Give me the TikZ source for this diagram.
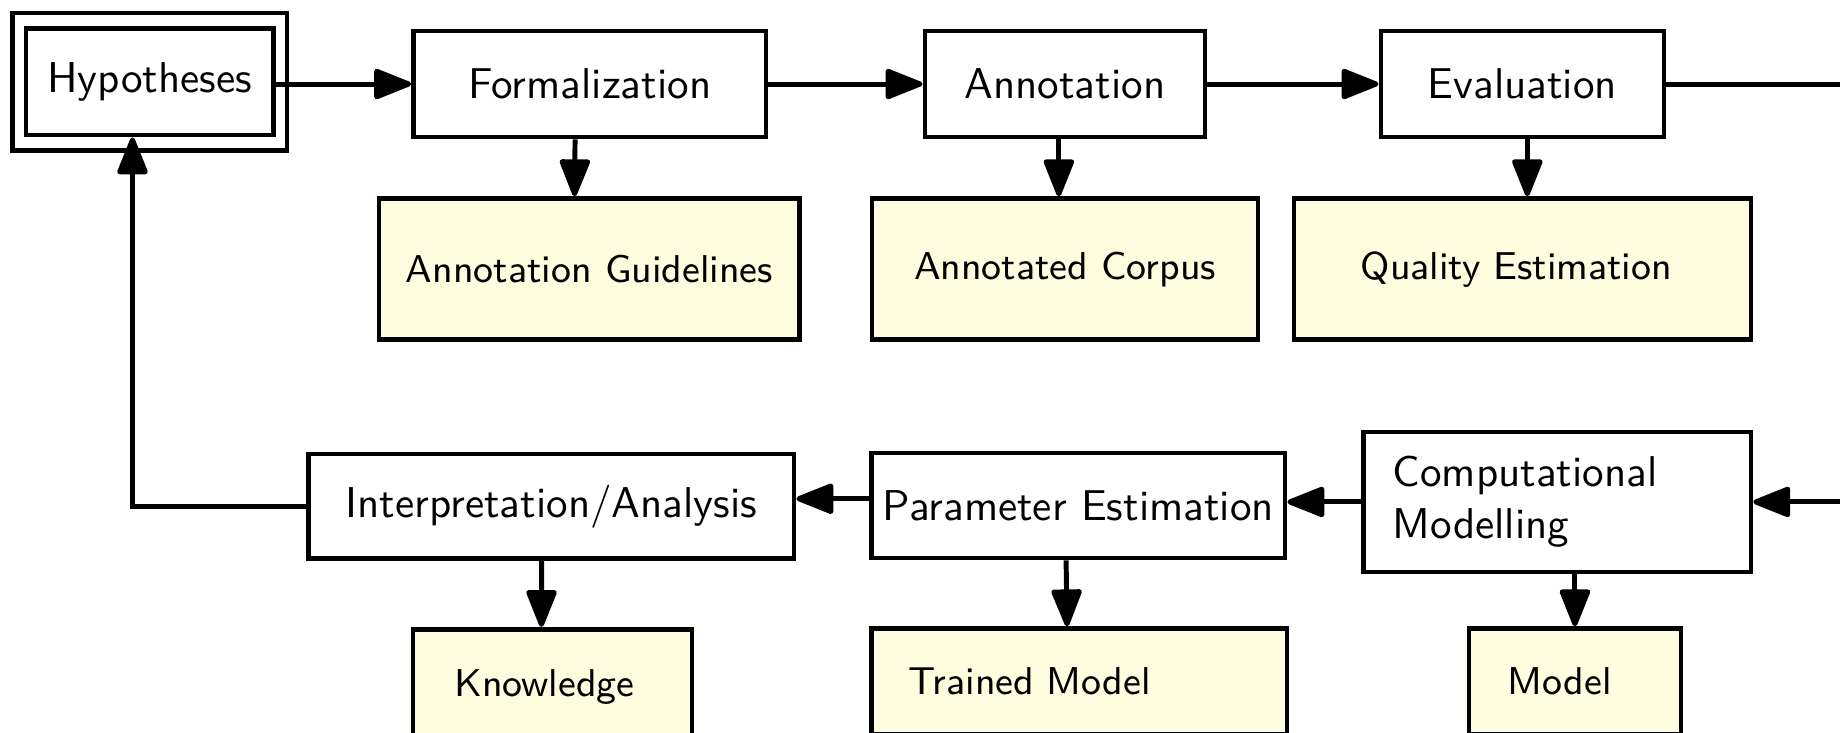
\documentclass[tikz,border=0pt]{standalone}
\usepackage{tikz}
\usetikzlibrary{arrows.meta,fit}
\definecolor{prodyellow}{RGB}{255,253,224}

\begin{document}
\begin{tikzpicture}[
	proc/.style={draw, line width=1.1pt, fill=white, minimum height=0.864cm, font=\sffamily},
	prod/.style={draw, line width=1.1pt, fill=prodyellow, font=\sffamily\small},
	arr/.style={line width=1.15pt, -{Triangle[length=9.6pt,width=7.3pt,round]}}
]
	\useasboundingbox (0,0) rectangle (15,-5.975);
	\clip (0,0) rectangle (15,-5.975);

	% top row
	\node[proc, minimum width=2.016cm, minimum height=0.870cm] (hyp) at (1.220,-0.666) {Hypotheses};
	\node[draw, line width=1.1pt, fit=(hyp), inner xsep=2.6pt, inner ysep=3pt] (hypframe) {};
	\node[proc, minimum width=2.874cm] (form) at (4.808,-0.685) {Formalization};
	\node[proc, minimum width=2.283cm] (ann) at (8.682,-0.685) {Annotation};
	\node[proc, minimum width=2.307cm] (eval) at (12.411,-0.685) {Evaluation};
	\node[prod, minimum width=3.428cm, minimum height=1.15cm] (guid) at (4.804,-2.194) {Annotation Guidelines};
	\node[prod, minimum width=3.147cm, minimum height=1.15cm] (corpus) at (8.682,-2.194) {Annotated Corpus};
	\node[prod, minimum width=3.725cm, minimum height=1.15cm, text width=3.3cm, align=center] (qual) at (12.411,-2.194) {\hspace*{-0.1cm}Quality Estimation};

	% bottom row
	\node[proc, minimum width=3.956cm, minimum height=0.852cm] (interp) at (4.495,-4.127) {Interpretation/Analysis};
	\node[proc, minimum width=3.369cm, minimum height=0.856cm, inner xsep=2pt] (param) at (8.791,-4.121) {Parameter Estimation};
	\node[proc, minimum width=3.157cm, minimum height=1.141cm, text width=2.682cm, align=left] (cm) at (12.695,-4.092) {Computational\\Modelling};
	\node[prod, minimum width=2.274cm, minimum height=0.94cm, text width=1.6cm, align=left] (know) at (4.504,-5.600) {Knowledge};
	\node[prod, minimum width=3.386cm, minimum height=0.864cm, text width=2.78cm, align=left] (trained) at (8.799,-5.557) {Trained Model};
	\node[prod, minimum width=1.728cm, minimum height=0.864cm, text width=1.092cm, align=left] (model) at (12.839,-5.557) {Model};

	% forward
	\draw[arr] (hyp.east |- form.west) -- (form.west);
	\draw[arr] (form) -- (ann);
	\draw[arr] (ann) -- (eval);
	\coordinate (turn) at (15.6,-0.685);
	\draw[arr] (eval.east) -- (turn) |- (cm.east);
	\draw[arr] (cm.west) -- (cm.west -| param.east);
	\draw[arr] ([yshift=0.55mm]param.west) -- ([yshift=0.55mm]param.west -| interp.east);
	% back to hypotheses
	\draw[arr] (interp.west) -| ([xshift=-1.4mm]hyp.south);
	% outputs
	\draw[arr] ([xshift=-1.2mm]form.south) -- ([xshift=-1.2mm]guid.north);
	\draw[arr] ([xshift=-0.5mm]ann.south) -- ([xshift=-0.5mm]corpus.north);
	\draw[arr] ([xshift=0.4mm]eval.south) -- ([xshift=0.4mm]qual.north);
	\draw[arr] ([xshift=-0.8mm]interp.south) -- ([xshift=-0.9mm]know.north);
	\draw[arr] ([xshift=-1mm]param.south) -- ([xshift=-1mm]trained.north);
	\draw[arr] (model.north |- cm.south) -- (model.north);
\end{tikzpicture}
\end{document}
